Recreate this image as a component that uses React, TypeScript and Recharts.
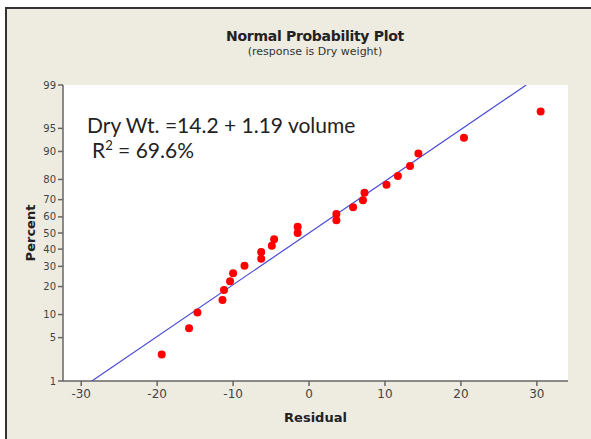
import React from "react";
import {
  ScatterChart,
  Scatter,
  XAxis,
  YAxis,
  CartesianGrid,
  Label,
} from "recharts";

// residuals, with their plotted percent (median ranks)
const residuals = [
  -19.4, -15.8, -14.7, -11.4, -11.2, -10.4, -10.0, -8.5, -6.3, -6.3, -4.9, -4.6,
  -1.5, -1.5, 3.6, 3.6, 5.8, 7.1, 7.3, 10.2, 11.7, 13.3, 14.4, 20.4, 30.5,
];
const percents = [
  2.8, 6.7, 10.6, 14.6, 18.5, 22.4, 26.4, 30.3, 34.3, 38.2, 42.1, 46.1, 50.0,
  53.9, 57.9, 61.8, 65.7, 69.7, 73.6, 77.6, 81.5, 85.4, 89.4, 93.3, 97.2,
];

// fitted normal line, end points as read
const fitResidual = [-28.6, 28.6];
const fitPercent = [1, 99];

const xTicks = [-30, -20, -10, 0, 10, 20, 30];
const yTickPercents = [1, 5, 10, 20, 30, 40, 50, 60, 70, 80, 90, 95, 99];

// inverse normal cdf (Acklam) - maps percent onto the normal probability scale
function probit(p: number): number {
  const a = [-39.69683028665376, 220.9460984245205, -275.9285104469687, 138.357751867269, -30.66479806614716, 2.506628277459239];
  const b = [-54.47609879822406, 161.5858368580409, -155.6989798598866, 66.80131188771972, -13.28068155288572];
  const c = [-0.007784894002430293, -0.3223964580411365, -2.400758277161838, -2.549732539343734, 4.374664141464968, 2.938163982698783];
  const d = [0.007784695709041462, 0.3224671290700398, 2.445134137142996, 3.754408661907416];
  const pl = 0.02425;
  if (p < pl) {
    const q = Math.sqrt(-2 * Math.log(p));
    return (((((c[0] * q + c[1]) * q + c[2]) * q + c[3]) * q + c[4]) * q + c[5]) /
      ((((d[0] * q + d[1]) * q + d[2]) * q + d[3]) * q + 1);
  }
  if (p > 1 - pl) {
    const q = Math.sqrt(-2 * Math.log(1 - p));
    return -(((((c[0] * q + c[1]) * q + c[2]) * q + c[3]) * q + c[4]) * q + c[5]) /
      ((((d[0] * q + d[1]) * q + d[2]) * q + d[3]) * q + 1);
  }
  const q = p - 0.5;
  const r = q * q;
  return (((((a[0] * r + a[1]) * r + a[2]) * r + a[3]) * r + a[4]) * r + a[5]) * q /
    (((((b[0] * r + b[1]) * r + b[2]) * r + b[3]) * r + b[4]) * r + 1);
}

const points = residuals.map((r, i) => ({ x: r, z: probit(percents[i] / 100) }));
const fitLine = fitResidual.map((r, i) => ({ x: r, z: probit(fitPercent[i] / 100) }));
const yTicks = yTickPercents.map((p) => probit(p / 100));

const tickLabel = (v: number) => {
  const i = yTicks.findIndex((t) => Math.abs(t - v) < 1e-6);
  return i >= 0 ? String(yTickPercents[i]) : "";
};

const axisColor = "#666";
const tickFont = { fontFamily: "DejaVu Sans", fill: "#444" };

export default function App() {
  return (
    <div style={{ position: "fixed", left: 0, top: 0, width: 591, height: 439, background: "#fff", overflow: "hidden" }}>
      <div
        style={{
          position: "absolute",
          left: 5,
          top: 7,
          width: 600,
          height: 440,
          background: "#EEEBE1",
          borderLeft: "2px solid #333",
          borderTop: "2px solid #333",
        }}
      />
      <div style={{ position: "absolute", left: 0, width: 630, top: 28, textAlign: "center", fontFamily: "DejaVu Sans", color: "#222" }}>
        <div style={{ fontSize: 14, fontWeight: "bold", letterSpacing: -0.3 }}>Normal Probability Plot</div>
        <div style={{ fontSize: 11, marginTop: 1, color: "#333" }}>(response is Dry weight)</div>
      </div>
      <div style={{ position: "absolute", left: 0, top: 0 }}>
        <ScatterChart width={591} height={439} margin={{ top: 85, right: 23, left: 0, bottom: 0 }}>
          <CartesianGrid fill="#fff" horizontal={false} vertical={false} />
          <XAxis
            type="number"
            dataKey="x"
            domain={[-32.4, 34.1]}
            ticks={xTicks}
            allowDataOverflow
            height={58}
            tickSize={5}
            tickMargin={3}
            stroke={axisColor}
            strokeWidth={1.5}
            tick={{ ...tickFont, fontSize: 12 }}
          >
            <Label
              value="Residual"
              position="insideBottom"
              offset={17}
              style={{ fontFamily: "DejaVu Sans", fontWeight: "bold", fontSize: 13, fill: "#222" }}
            />
          </XAxis>
          <XAxis xAxisId="top" orientation="top" type="number" dataKey="x" domain={[-32.4, 34.1]} height={0} tick={false} tickLine={false} stroke={axisColor} strokeWidth={1.5} />
          <YAxis
            type="number"
            dataKey="z"
            domain={[yTicks[0], yTicks[yTicks.length - 1]]}
            ticks={yTicks}
            tickFormatter={tickLabel}
            allowDataOverflow
            width={63}
            tickSize={5}
            tickMargin={2}
            stroke={axisColor}
            strokeWidth={1.5}
            tick={{ ...tickFont, fontSize: 10 }}
          >
            <Label
              content={({ viewBox }: any) => (
                <text
                  x={viewBox.x + 30}
                  y={viewBox.y + viewBox.height / 2}
                  transform={`rotate(-90 ${viewBox.x + 30} ${viewBox.y + viewBox.height / 2})`}
                  textAnchor="middle"
                  dominantBaseline="central"
                  style={{ fontFamily: "DejaVu Sans", fontWeight: "bold", fontSize: 13, fill: "#222" }}
                >
                  Percent
                </text>
              )}
            />
          </YAxis>
          <YAxis yAxisId="right" orientation="right" type="number" dataKey="z" domain={[yTicks[0], yTicks[yTicks.length - 1]]} width={0} tick={false} tickLine={false} stroke={axisColor} strokeWidth={1.5} />
          <Scatter
            data={fitLine}
            line={{ stroke: "#4A4AD8", strokeWidth: 1.2 }}
            shape={() => <g />}
            isAnimationActive={false}
          />
          <Scatter data={points} fill="#FF0000" shape={(p: any) => <circle cx={p.cx} cy={p.cy} r={4} fill="#FF0000" />} isAnimationActive={false} />
        </ScatterChart>
      </div>
      <div style={{ position: "absolute", left: 87, top: 112, fontFamily: "Lato", fontSize: 21, color: "#222", lineHeight: "25px" }}>
        <div>Dry Wt. =14.2 + 1.19 volume</div>
        <div style={{ paddingLeft: 5 }}>
          R<sup style={{ fontSize: 13, lineHeight: 0 }}>2</sup> = 69.6%
        </div>
      </div>
    </div>
  );
}
